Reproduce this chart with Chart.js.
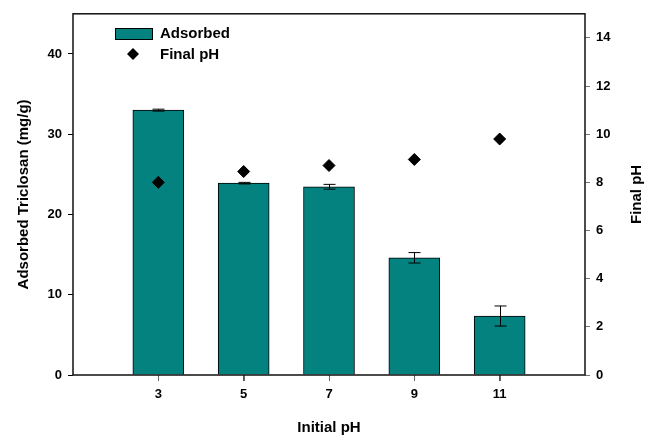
<!DOCTYPE html>
<html>
<head>
<meta charset="utf-8">
<script src="https://cdn.jsdelivr.net/npm/chart.js@4"></script>
<style>
  html, body { margin: 0; padding: 0; background: #fff; }
  #wrap { width: 654px; height: 439px; }
</style>
</head>
<body>
<div id="wrap"><canvas id="phChart" width="654" height="439"></canvas></div>
<script>
const initialPH = [3, 5, 7, 9, 11];
const adsorbed = [33.0, 23.9, 23.45, 14.6, 7.35];
const adsorbedErr = [0.12, 0.1, 0.3, 0.65, 1.25];
const finalPH = [8.0, 8.45, 8.7, 8.95, 9.8];
const leftTicks = [0, 10, 20, 30, 40];
const rightTicks = [0, 2, 4, 6, 8, 10, 12, 14];

const teal = "#048280";
const font = "'Liberation Sans', Arial, sans-serif";

// error bars, frame, x tick marks, legend and the right-hand title
const extras = {
  id: "extras",
  afterDatasetsDraw(chart) {
    const ctx = chart.ctx;
    const x = chart.scales.x;
    const y = chart.scales.y;
    const a = chart.chartArea;
    ctx.save();
    ctx.strokeStyle = "#000";
    ctx.lineWidth = 1;
    initialPH.forEach((v, i) => {
      const px = Math.round(x.getPixelForValue(v)) + 0.5;
      const hi = y.getPixelForValue(adsorbed[i] + adsorbedErr[i]);
      const lo = y.getPixelForValue(adsorbed[i] - adsorbedErr[i]);
      ctx.beginPath();
      ctx.moveTo(px, hi);
      ctx.lineTo(px, lo);
      ctx.moveTo(px - 6, hi);
      ctx.lineTo(px + 6, hi);
      ctx.moveTo(px - 6, lo);
      ctx.lineTo(px + 6, lo);
      ctx.stroke();
    });

    ctx.strokeStyle = "#666";
    ctx.beginPath();
    initialPH.forEach((v) => {
      const px = Math.round(x.getPixelForValue(v)) + 0.5;
      ctx.moveTo(px, a.bottom);
      ctx.lineTo(px, a.bottom + 6);
    });
    ctx.stroke();

    ctx.strokeStyle = "#111";
    ctx.lineWidth = 1.5;
    ctx.strokeRect(a.left, a.top, a.right - a.left, a.bottom - a.top);

    // legend
    ctx.fillStyle = teal;
    ctx.fillRect(115, 28, 37, 11);
    ctx.strokeStyle = "#000";
    ctx.lineWidth = 1;
    ctx.strokeRect(115.5, 28.5, 37, 11);
    ctx.fillStyle = "#000";
    ctx.beginPath();
    ctx.moveTo(133, 48);
    ctx.lineTo(139, 54);
    ctx.lineTo(133, 60);
    ctx.lineTo(127, 54);
    ctx.closePath();
    ctx.fill();
    ctx.font = "bold 15px " + font;
    ctx.textBaseline = "middle";
    ctx.textAlign = "left";
    ctx.fillText("Adsorbed", 160, 34);
    ctx.fillText("Final pH", 160, 55);

    // right title reads bottom to top
    ctx.translate(637, (a.top + a.bottom) / 2);
    ctx.rotate(-Math.PI / 2);
    ctx.textAlign = "center";
    ctx.fillText("Final pH", 0, 0);
    ctx.restore();
  },
};

new Chart(document.getElementById("phChart"), {
  type: "bar",
  data: {
    datasets: [
      {
        type: "line",
        label: "Final pH",
        data: initialPH.map((v, i) => ({ x: v, y: finalPH[i] })),
        yAxisID: "y1",
        showLine: false,
        pointStyle: "rectRot",
        pointRadius: 6,
        backgroundColor: "#000",
        borderColor: "#000",
        order: 0,
      },
      {
        label: "Adsorbed",
        data: initialPH.map((v, i) => ({ x: v, y: adsorbed[i] })),
        yAxisID: "y",
        backgroundColor: teal,
        borderColor: "#000",
        borderWidth: 1,
        barThickness: 51,
        order: 1,
      },
    ],
  },
  options: {
    responsive: false,
    animation: false,
    layout: { padding: { top: 8, left: 0, right: 0, bottom: 0 } },
    plugins: { legend: { display: false }, tooltip: { enabled: false } },
    scales: {
      x: {
        type: "linear",
        min: 1,
        max: 13,
        offset: false,
        afterBuildTicks: (s) => { s.ticks = initialPH.map((v) => ({ value: v })); },
        afterFit: (s) => { s.height = 64; },
        grid: { drawOnChartArea: false, offset: false, tickLength: 6, color: "#555", lineWidth: 1 },
        border: { display: false },
        ticks: { color: "#000", font: { family: font, size: 13, weight: "bold" }, padding: 6 },
        title: {
          display: true,
          text: "Initial pH",
          color: "#000",
          font: { family: font, size: 15, weight: "bold" },
          padding: { top: 0, bottom: 2 },
        },
      },
      y: {
        position: "left",
        min: 0,
        max: 45,
        afterBuildTicks: (s) => { s.ticks = leftTicks.map((v) => ({ value: v })); },
        afterFit: (s) => { s.width = 73; },
        grid: { drawOnChartArea: false, tickLength: 5, color: "#000" },
        border: { display: false },
        ticks: { color: "#000", font: { family: font, size: 13, weight: "bold" }, padding: 6 },
        title: {
          display: true,
          text: "Adsorbed Triclosan (mg/g)",
          color: "#000",
          font: { family: font, size: 15, weight: "bold" },
          padding: { top: 15, bottom: 0 },
        },
      },
      y1: {
        position: "right",
        min: 0,
        max: 15,
        afterBuildTicks: (s) => { s.ticks = rightTicks.map((v) => ({ value: v })); },
        afterFit: (s) => { s.width = 69; },
        grid: { drawOnChartArea: false, tickLength: 5, color: "#777" },
        border: { display: false },
        ticks: { color: "#000", font: { family: font, size: 13, weight: "bold" }, padding: 6 },
      },
    },
  },
  plugins: [extras],
});
</script>
</body>
</html>
